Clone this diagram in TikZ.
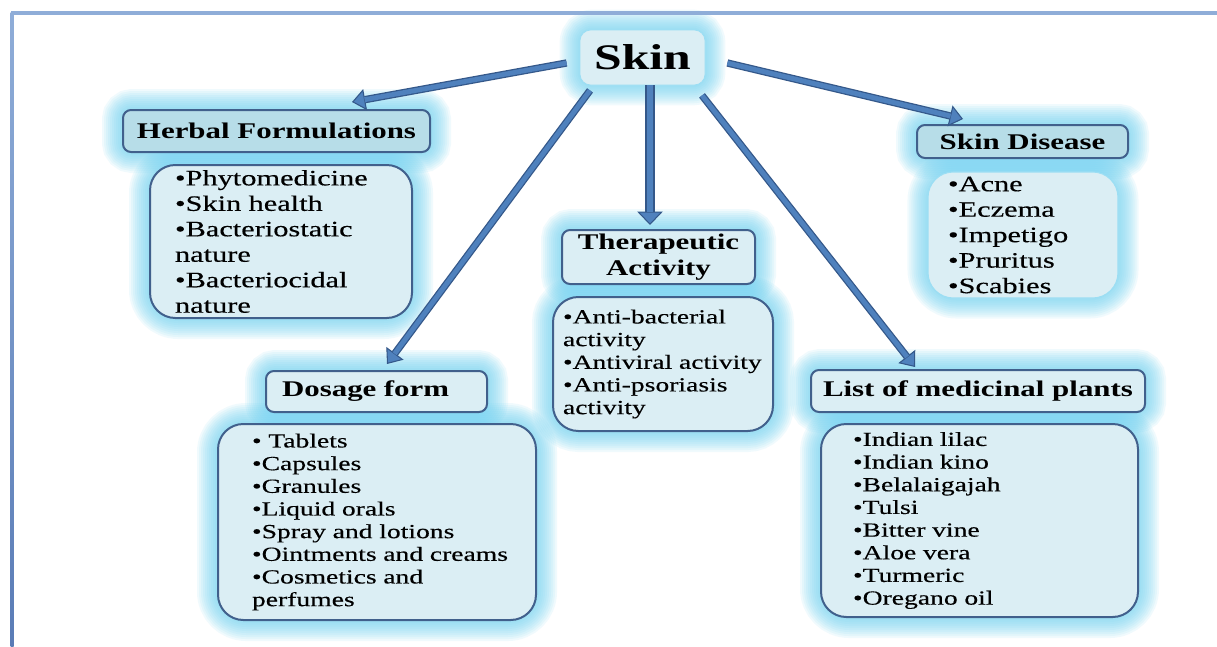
\documentclass[tikz,border=0pt]{standalone}
\usepackage{fontspec}
\setmainfont{Liberation Serif}[FakeStretch=1.38, UprightFeatures={FakeBold=0.35}]
\usetikzlibrary{arrows.meta,calc,backgrounds}
\definecolor{lightfill}{HTML}{DBEEF4}
\definecolor{hdrfill}{HTML}{B7DDE8}
\definecolor{boxline}{HTML}{41608C}
\definecolor{glowc}{HTML}{72D4F3}
\definecolor{arrfill}{HTML}{4F81BD}
\definecolor{arrline}{HTML}{34588A}
\definecolor{frametop}{HTML}{8FADD8}
\definecolor{frameleft}{HTML}{5A7CB6}
\begin{document}
\begin{tikzpicture}[x=0.75pt,y=-0.75pt,
  skinbox/.style={fill=lightfill, draw=glowc!60!lightfill, line width=0.6pt, rounded corners=8pt,
    minimum width=93.75pt, minimum height=41.25pt, inner sep=0pt,
    font=\fontsize{27}{30}\selectfont\bfseries},
  hdr/.style={draw=boxline, line width=1.5pt, fill=lightfill, rounded corners=6pt,
    inner sep=0pt, align=center, font=\fontsize{16.8}{19}\selectfont\bfseries},
  listbox/.style={draw=boxline, line width=1.5pt, fill=lightfill, rounded corners=19pt,
    align=left, inner ysep=0pt},
  bigtext/.style={font=\fontsize{16.5}{19.1}\selectfont},
  smalltext/.style={font=\fontsize{15}{17}\selectfont},
  arrow/.style={arrline, line width=5.5pt,
    -{Triangle[length=10pt,width=16pt,line width=0.8pt,fill=arrfill]},
    postaction={draw=arrfill, line width=3.6pt, -, shorten >=9.6pt}},
  bigarrow/.style={arrline, line width=7pt,
    -{Triangle[length=10pt,width=19pt,line width=0.8pt,fill=arrfill]},
    postaction={draw=arrfill, line width=5pt, -, shorten >=9.6pt}}
]
\useasboundingbox (0,0) rectangle (1217,646);

% frame
\draw[frametop, line width=2.4pt] (11,13) -- (1217,13);
\shade[top color=frametop, bottom color=frameleft] (10.5,12) rectangle (13.5,646);

% nodes
\node[skinbox] (skin) at (642.5,57.5) {Skin};

\node[hdr, fill=hdrfill, minimum width=230.25pt, minimum height=31.5pt] (hh) at (276.5,131) {Herbal Formulations};
\node[listbox, bigtext, text width=159pt, inner xsep=18.75pt, minimum height=114.75pt] (hl) at (281,241.5)
  {•Phytomedicine\\•Skin~health\\•Bacteriostatic\\nature\\•Bacteriocidal\\nature};

\node[hdr, fill=hdrfill, minimum width=158.25pt, minimum height=24.75pt] (sh) at (1022.5,141.5) {Skin Disease};
\node[listbox, bigtext, draw=glowc!60!lightfill, line width=0.8pt, text width=112.5pt, inner xsep=15pt, minimum height=94.5pt] (sl) at (1023,235)
  {•Acne\\•Eczema\\•Impetigo\\•Pruritus\\•Scabies};

\node[hdr, minimum width=144.75pt, minimum height=40.5pt] (th) at (658.5,257) {Therapeutic\\Activity};
\node[listbox, smalltext, text width=150pt, inner xsep=7.5pt, minimum height=100.5pt] (tl) at (663,364)
  {•Anti-bacterial\\activity\\•Antiviral~activity\\•Anti-psoriasis\\activity};

\node[hdr, minimum width=165.75pt, minimum height=30.75pt, text width=141.75pt, inner xsep=12pt, align=left] (dh) at (376.5,391.5) {Dosage form};
\node[listbox, smalltext, text width=187.5pt, inner xsep=25.5pt, minimum height=147pt] (dl) at (377,522)
  {•~Tablets\\•Capsules\\•Granules\\•Liquid~orals\\•Spray~and~lotions\\•Ointments~and~creams\\•Cosmetics~and\\perfumes};

\node[hdr, minimum width=250.5pt, minimum height=31.5pt] (ph) at (978,391) {List of medicinal plants};
\node[listbox, smalltext, text width=189.75pt, inner xsep=24pt, minimum height=144.75pt] (pl) at (979.5,520.5)
  {•Indian~lilac\\•Indian~kino\\•Belalaigajah\\•Tulsi\\•Bitter~vine\\•Aloe~vera\\•Turmeric\\•Oregano~oil};

% glows
\begin{scope}[on background layer]
\fill[white] (0,0) rectangle (1217,646);
\foreach \n/\r in {skin/10pt,hh/8pt,hl/22pt,sh/8pt,sl/22pt,th/8pt,tl/20pt,dh/8pt,dl/22pt,ph/8pt,pl/22pt}{
  \foreach \w in {30,27,24,21,18,15,12,9,6,3}{
    \draw[glowc, opacity=0.1, line width=\w pt, rounded corners=\r] (\n.north west) rectangle (\n.south east);
  }
}
\end{scope}

% arrows
\draw[arrow] ($(skin.west)+(-13,5.5)$) -- ($(hh.north)+(75.5,-7)$);
\draw[arrow] ($(skin.south)+(-52.5,5)$) -- ($(dh.north)+(10.5,-6)$);
\draw[bigarrow] ($(skin.south)+(7.5,0)$) -- ($(th.north)+(-8.5,-4)$);
\draw[arrow] ($(skin.south)+(59.5,10)$) -- ($(ph.north)+(-63,-2)$);
\draw[arrow] ($(skin.east)+(22,5.5)$) -- ($(sh.north)+(-59.5,-5)$);
\end{tikzpicture}
\end{document}
